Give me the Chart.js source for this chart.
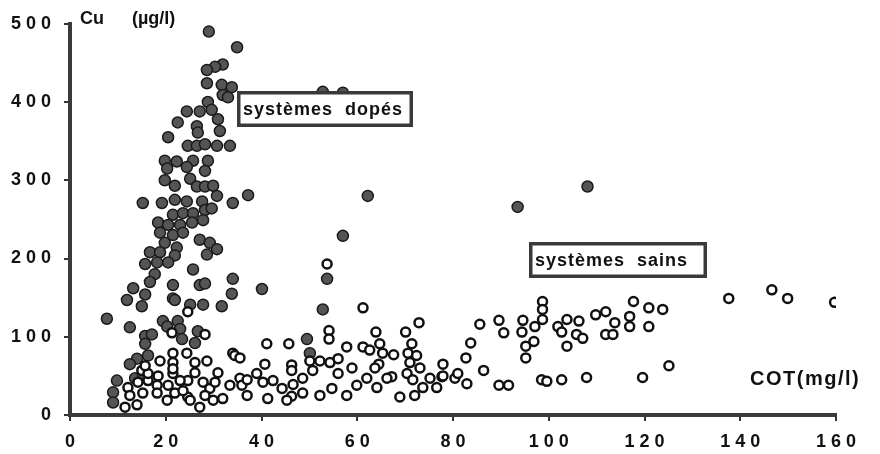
<!DOCTYPE html>
<html>
<head>
<meta charset="utf-8">
<script src="https://cdn.jsdelivr.net/npm/chart.js@4.4.1/dist/chart.umd.min.js"></script>
<style>
  body { margin: 0; background: #fff; }
  #wrap { width: 880px; height: 454px; }
</style>
</head>
<body>
<div id="wrap"><canvas id="cuChart" width="880" height="454"></canvas></div>
<script>
// tick labels
const xTicks = [0, 20, 40, 60, 80, 100, 120, 140, 160];
const yTicks = [0, 100, 200, 300, 400, 500];

// systèmes dopés (filled) : COT (mg/l), Cu (µg/l)
const cotDopes = [29.0, 34.9, 31.9, 30.3, 28.6, 28.6, 31.7, 33.8, 31.9, 33.0, 28.8, 29.6, 27.1, 24.4, 22.5, 20.5, 26.5, 26.7, 30.9, 31.3,
  24.6, 26.5, 28.2, 30.7, 33.4, 19.8, 22.3, 25.7, 28.8, 52.8, 57.0, 24.4, 28.2, 20.3, 19.8, 21.9, 25.1, 26.5, 28.2, 29.9,
  15.2, 19.2, 21.9, 24.4, 27.6, 30.7, 34.0, 37.2, 21.5, 23.6, 25.7, 28.2, 29.6, 18.4, 20.5, 23.0, 25.5, 27.8, 18.8, 21.5,
  23.6, 27.1, 29.2, 30.7, 28.6, 19.8, 22.3, 16.7, 18.8, 21.9, 15.7, 18.2, 20.5, 25.7, 17.7, 16.7, 13.2, 15.7, 11.9, 15.0,
  21.5, 21.5, 27.1, 34.0, 33.8, 31.7, 25.1, 27.8, 7.7, 12.5, 15.7, 17.1, 15.7, 19.4, 20.3, 22.5, 23.0, 23.4, 26.1, 26.7,
  14.0, 16.3, 9.8, 9.0, 9.0, 12.5, 13.6, 15.2, 40.1, 62.2, 57.0, 53.7, 52.8, 49.5, 50.1, 28.2, 93.5, 108.1, 21.9];
const cuDopes = [490, 470, 448, 445, 441, 424, 422, 419, 409, 406, 400, 390, 388, 388, 374, 355, 369, 361, 378, 363,
  344, 344, 346, 344, 344, 325, 324, 325, 325, 413, 412, 317, 312, 315, 300, 293, 302, 292, 292, 293,
  271, 271, 275, 273, 273, 280, 271, 281, 256, 258, 258, 262, 264, 246, 243, 243, 246, 249, 233, 230,
  233, 224, 220, 212, 205, 220, 214, 208, 208, 204, 193, 195, 195, 186, 180, 170, 162, 154, 147, 139,
  166, 149, 166, 174, 155, 139, 141, 141, 123, 112, 101, 103, 91, 120, 113, 120, 110, 97, 92, 107,
  72, 76, 44, 29, 16, 65, 47, 53, 161, 280, 229, 174, 135, 97, 79, 168, 266, 292, 147];

// systèmes sains (open)
const cotSains = [24.6, 21.3, 28.2, 21.5, 24.4, 18.8, 21.5, 26.1, 28.6, 15.0, 18.4, 21.5, 24.6, 30.9, 14.2, 16.3, 18.2, 21.9, 18.2, 27.8,
  29.2, 24.6, 27.1, 11.5, 14.0, 34.0, 34.4, 33.4, 35.5, 35.9, 31.9, 29.9, 21.5, 23.6, 20.5, 16.3, 12.1, 15.2, 20.3, 15.7,
  26.1, 23.0, 30.3, 12.5, 25.1, 28.2,
  61.2, 72.9, 54.1, 54.1, 63.9, 70.1, 41.1, 45.7, 57.8, 64.7, 71.4, 61.2, 62.6, 65.3, 70.6, 67.6, 72.4, 40.7, 50.1, 52.2,
  46.3, 54.3, 56.0, 64.5, 71.0, 77.9, 58.9, 63.7, 73.1, 46.3, 56.0, 67.2, 62.0, 39.0, 37.0, 42.4, 48.6, 50.7, 70.4, 75.2,
  77.7, 40.3, 46.6, 59.9, 64.1, 66.2, 71.6, 73.7, 54.7, 52.2, 44.3, 41.3, 37.0, 57.8, 68.9, 72.0, 48.6, 46.3, 45.3, 76.6,
  35.5, 53.7,
  82.7, 83.7, 85.6, 86.4, 82.9, 89.6, 90.6, 89.6, 91.6, 94.6, 94.4, 97.1, 95.2, 96.9, 95.2, 98.7, 98.7, 98.7, 98.5, 99.6,
  102.7, 101.9, 103.8, 102.7, 103.8, 105.8, 106.3, 77.9, 80.4, 81.0, 107.1, 107.9, 109.8, 111.9, 113.8, 111.9, 113.4, 116.9, 116.9, 117.7,
  120.9, 123.8, 120.9, 119.6, 125.1, 137.6, 146.6, 149.9, 159.7];
const cuSains = [132, 105, 103, 79, 79, 69, 67, 67, 69, 57, 50, 53, 44, 54, 42, 44, 38, 28, 28, 42,
  34, 23, 10, 10, 13, 79, 76, 38, 47, 38, 21, 19, 59, 31, 38, 53, 35, 28, 19, 63,
  54, 44, 42, 25, 19, 25,
  137, 118, 108, 97, 106, 106, 91, 91, 87, 91, 91, 87, 83, 79, 79, 77, 76, 65, 69, 69,
  64, 67, 72, 65, 67, 65, 60, 60, 60, 57, 53, 49, 47, 53, 45, 44, 47, 57, 53, 47,
  49, 42, 39, 38, 35, 47, 45, 35, 34, 25, 34, 21, 25, 25, 23, 25, 28, 24, 19, 35,
  73, 193,
  73, 92, 116, 57, 40, 121, 105, 38, 38, 121, 106, 113, 88, 94, 73, 145, 135, 122, 45, 43,
  45, 113, 122, 106, 88, 103, 120, 50, 47, 53, 98, 48, 128, 132, 118, 103, 103, 126, 113, 145,
  137, 135, 113, 48, 63, 149, 160, 149, 144];

const toPoints = (xs, ys) => xs.map((x, i) => ({ x: x, y: ys[i] }));
const spaced = v => String(v).split('').join(' ');
const FONT = '"Liberation Sans", Arial, sans-serif';

// texts and boxes drawn on top
const notes = {
  id: 'notes',
  afterDatasetsDraw(chart) {
    const ctx = chart.ctx;
    ctx.save();
    ctx.fillStyle = '#111';
    ctx.textBaseline = 'middle';
    ctx.font = 'bold 18px ' + FONT;
    ctx.fillText('Cu', 80, 19);
    ctx.fillText('(µg/l)', 132, 19);
    if ('letterSpacing' in ctx) ctx.letterSpacing = '1.5px';
    ctx.font = 'bold 20px ' + FONT;
    ctx.fillText('COT(mg/l)', 750, 379);

    function box(x, y, w, h, text) {
      ctx.fillStyle = '#fff';
      ctx.fillRect(x, y, w, h);
      ctx.lineWidth = 3.5;
      ctx.strokeStyle = '#3a3a3a';
      ctx.strokeRect(x + 1.75, y + 1.75, w - 3.5, h - 3.5);
      ctx.fillStyle = '#111';
      ctx.font = 'bold 18px ' + FONT;
      ctx.letterSpacing = '1px';
      ctx.fillText(text, x + 6, y + h / 2 + 1);
    }
    box(237, 91, 176, 36, 'systèmes  dopés');
    box(529, 242, 178, 36, 'systèmes  sains');
    ctx.restore();
  }
};

new Chart(document.getElementById('cuChart'), {
  type: 'scatter',
  data: {
    datasets: [{
      label: 'systèmes sains',
      data: toPoints(cotSains, cuSains),
      pointStyle: 'circle',
      pointRadius: 4.5,
      backgroundColor: '#fff',
      borderColor: '#111',
      borderWidth: 2.5
    }, {
      label: 'systèmes dopés',
      data: toPoints(cotDopes, cuDopes),
      pointStyle: 'circle',
      pointRadius: 5.5,
      backgroundColor: '#555',
      borderColor: '#1a1a1a',
      borderWidth: 1.5
    }]
  },
  options: {
    responsive: false,
    animation: false,
    layout: { padding: { top: 18, right: 44, left: 0, bottom: 0 } },
    plugins: {
      legend: { display: false },
      tooltip: { enabled: false }
    },
    scales: {
      x: {
        type: 'linear',
        min: 0,
        max: 160,
        afterBuildTicks: s => { s.ticks = xTicks.map(v => ({ value: v })); },
        afterFit: s => { s.height = 39; },
        grid: { drawOnChartArea: false, drawTicks: true, tickLength: 6, color: '#333', lineWidth: 2 },
        border: { color: '#3a3a3a', width: 4 },
        ticks: {
          callback: spaced,
          color: '#111',
          padding: 10,
          maxRotation: 0,
          font: { family: FONT, size: 18, weight: 'bold' }
        }
      },
      y: {
        type: 'linear',
        min: 0,
        max: 500,
        afterBuildTicks: s => { s.ticks = yTicks.map(v => ({ value: v })); },
        afterFit: s => { s.width = 70; },
        grid: { drawOnChartArea: false, drawTicks: true, tickLength: 6, color: '#333', lineWidth: 2 },
        border: { color: '#3a3a3a', width: 4 },
        ticks: {
          callback: spaced,
          color: '#111',
          padding: 13,
          font: { family: FONT, size: 18, weight: 'bold' }
        }
      }
    }
  },
  plugins: [notes]
});
</script>
</body>
</html>
